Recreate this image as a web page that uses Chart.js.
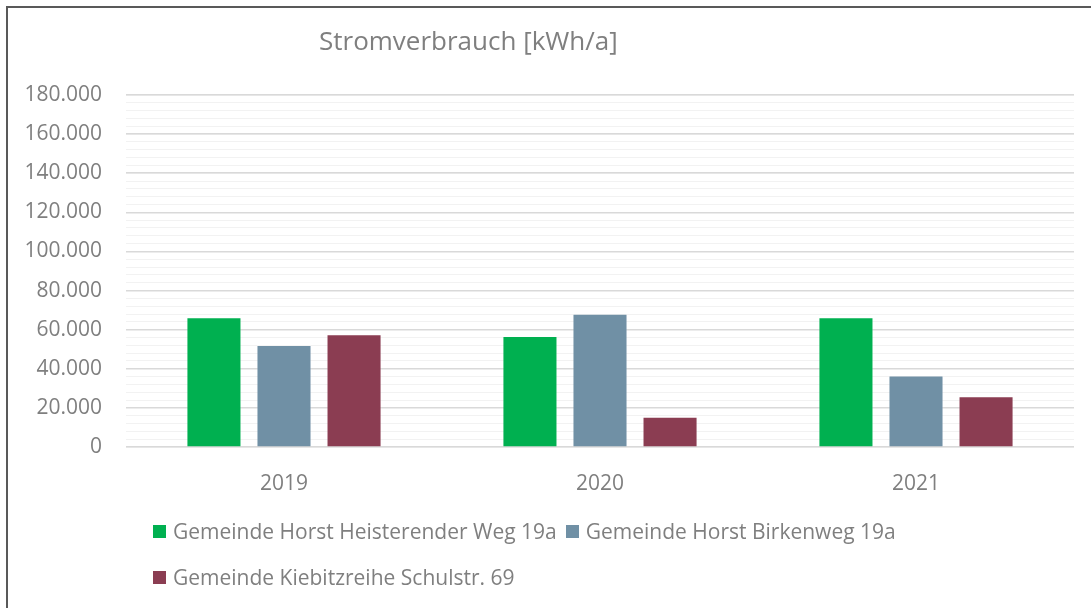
<!DOCTYPE html>
<html lang="de">
<head>
<meta charset="utf-8">
<title>Stromverbrauch</title>
<script src="https://cdn.jsdelivr.net/npm/chart.js@4.4.1/dist/chart.umd.min.js"></script>
<style>
  html, body { margin: 0; padding: 0; background: #fff; }
  #wrap { position: relative; width: 1091px; height: 608px; overflow: hidden; font-family: "Open Sans", sans-serif; color: #7f7f7f; }
  #rahmen { position: absolute; left: 6px; top: 6px; width: 1200px; height: 700px; border-top: 2px solid #595959; border-left: 2px solid #595959; }
  #grafik { position: absolute; left: 0; top: 0; }
  #titel { position: absolute; left: 319px; top: 24px; font-size: 26px; line-height: 32px; white-space: nowrap; }
  #legende { position: absolute; left: 153px; top: 518px; width: 760px; display: flex; flex-wrap: wrap; row-gap: 20px; column-gap: 9px; font-size: 21px; line-height: 26px; }
  .eintrag { display: flex; align-items: center; white-space: nowrap; }
  .kasten { width: 13px; height: 13px; margin-right: 7px; }
</style>
</head>
<body>
<div id="wrap">
  <div id="rahmen"></div>
  <canvas id="grafik" width="1091" height="608"></canvas>
  <div id="titel">Stromverbrauch [kWh/a]</div>
  <div id="legende"></div>
</div>
<script>
// Daten
const jahre = ["2019", "2020", "2021"];
const heisterenderWeg = [66300, 56700, 66300];
const birkenweg = [52100, 68200, 36600];
const kiebitzreihe = [57600, 15500, 25900];

const serienNamen = [
  "Gemeinde Horst Heisterender Weg 19a",
  "Gemeinde Horst Birkenweg 19a",
  "Gemeinde Kiebitzreihe Schulstr. 69"
];
const farben = ["#00b050", "#7090a5", "#8b3d52"];

const Y_MAX = 180000;
const HAUPT_SCHRITT = 20000;
const NEBEN_SCHRITT = 4000;

const GRAU = "#7f7f7f";
const SCHRIFT = "'Open Sans', sans-serif";

// Tausenderpunkt wie im Original
function formatZahl(v) {
  return String(v).replace(/\B(?=(\d{3})+(?!\d))/g, ".");
}

const werte = [heisterenderWeg, birkenweg, kiebitzreihe];

const ctx = document.getElementById("grafik").getContext("2d");

const chart = new Chart(ctx, {
  type: "bar",
  data: {
    labels: jahre,
    datasets: werte.map((daten, i) => ({
      label: serienNamen[i],
      data: daten,
      backgroundColor: farben[i],
      borderColor: "rgba(255,255,255,0.25)",
      borderWidth: 1,
      categoryPercentage: 0.665,
      barPercentage: 0.786
    }))
  },
  options: {
    responsive: false,
    devicePixelRatio: 1,
    animation: false,
    layout: { padding: { top: 95, right: 17, left: 0, bottom: 0 } },
    plugins: {
      legend: { display: false },
      title: { display: false },
      tooltip: { enabled: false }
    },
    scales: {
      x: {
        grid: { display: false, drawTicks: false },
        border: { display: false },
        ticks: { color: GRAU, font: { family: SCHRIFT, size: 21 }, padding: 24 },
        afterFit: s => { s.height = 161; }
      },
      yNeben: {
        position: "left",
        min: 0,
        max: Y_MAX,
        z: -1,
        grid: { color: "#f2f2f2", lineWidth: 1, drawTicks: false },
        border: { display: false },
        ticks: { display: false, stepSize: NEBEN_SCHRITT },
        afterFit: s => { s.width = 0; }
      },
      y: {
        position: "left",
        min: 0,
        max: Y_MAX,
        grid: { color: "#d9d9d9", lineWidth: 1.5, drawTicks: false },
        border: { display: false },
        ticks: {
          stepSize: HAUPT_SCHRITT,
          color: GRAU,
          padding: 24,
          font: { family: SCHRIFT, size: 21 },
          callback: v => formatZahl(v)
        },
        afterFit: s => { s.width = 126; }
      }
    }
  }
});

// Legende als HTML, aus den Datensätzen erzeugt
const legendeEl = document.getElementById("legende");
chart.data.datasets.forEach(ds => {
  const eintrag = document.createElement("div");
  eintrag.className = "eintrag";
  const kasten = document.createElement("span");
  kasten.className = "kasten";
  kasten.style.background = ds.backgroundColor;
  const text = document.createElement("span");
  text.textContent = ds.label;
  eintrag.appendChild(kasten);
  eintrag.appendChild(text);
  legendeEl.appendChild(eintrag);
});
</script>
</body>
</html>
